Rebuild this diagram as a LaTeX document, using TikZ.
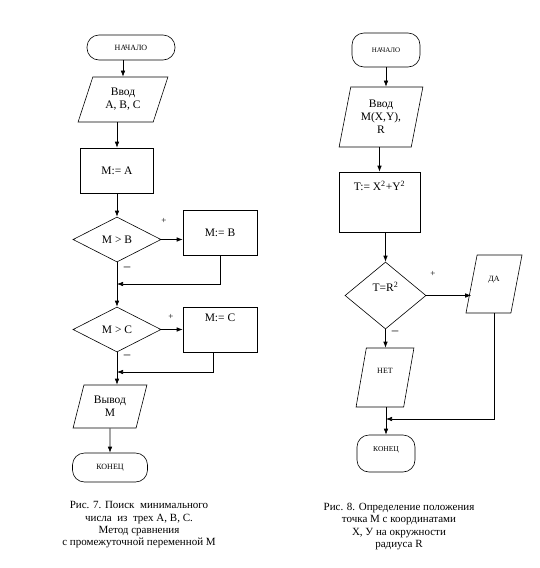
\documentclass[tikz,border=0pt]{standalone}
\usepackage{fontspec}
\setmainfont{Liberation Serif}
\usetikzlibrary{shapes.geometric,arrows.meta,positioning}

\tikzset{
  term/.style={draw,rectangle,rounded corners=12pt,inner sep=0pt,font=\fontsize{8}{9}\selectfont},
  io/.style={draw,trapezium,trapezium stretches=true,inner sep=0pt,align=center,font=\fontsize{11.5}{13}\selectfont},
  proc/.style={draw,rectangle,inner sep=0pt,font=\fontsize{11.5}{13}\selectfont},
  cond/.style={draw,diamond,inner sep=0pt,font=\fontsize{11.5}{13}\selectfont},
  sign/.style={inner sep=0pt,font=\fontsize{9}{9}\selectfont},
  minus/.style={inner sep=0pt,font=\fontsize{13}{13}\selectfont},
  caption/.style={align=center,inner sep=0pt,font=\fontsize{11}{12.3}\selectfont}
}

\begin{document}
\begin{tikzpicture}[x=1pt,y=-1pt,line width=0.6pt,>={Latex[length=6pt,width=4.5pt]}]
\useasboundingbox (0,0) rectangle (539,568);
% left chart
\node[term,minimum width=88pt,minimum height=25pt]	(beg_l)	at (131,47.5)	{НАЧАЛО};
\node[io,trapezium left angle=69,trapezium right angle=111,minimum width=90pt,minimum height=45pt]	(in_l)	at (123,99.5)	{Ввод\\A, B, C};
\node[proc,minimum width=73pt,minimum height=45pt]	(m_a)	at (117,170.5)	{M:= A};
\node[cond,minimum width=88pt,minimum height=45pt]	(c_b)	at (117,239.5)	{M > B};
\node[proc,minimum width=74pt,minimum height=45pt]	(m_b)	at (220,232.5)	{M:= B};
\node[cond,minimum width=88pt,minimum height=45pt]	(c_c)	at (117,329.5)	{M > C};
\node[proc,minimum width=74pt,minimum height=45pt,text height=7pt,text depth=23pt]	(m_c)	at (220,329.5)	{M:= C};
\node[io,trapezium left angle=72,trapezium right angle=108,minimum width=74pt,minimum height=43pt]	(out_l)	at (110,406.5)	{Вывод\\M};
\node[term,minimum width=75pt,minimum height=29pt]	(end_l)	at (110,467.5)	{КОНЕЦ};
\node[sign]	(p_b)	at (164,221)	{+};
\node[minus]	(n_b)	at (127,269)	{–};
\node[sign]	(p_c)	at (171,317)	{+};
\node[minus]	(n_c)	at (127,357)	{–};
\coordinate	(j_b)	at (117,284);
\coordinate	(j_c)	at (117,372);
\node[caption]	(cap_l)	at (139,525)	{Рис. 7. Поиск\ \ минимального\\числа\ \ из\ \ трех А, В, С.\\Метод сравнения\\с промежуточной переменной М};
% right chart
\node[term,minimum width=68pt,minimum height=34pt,font=\fontsize{7}{8}\selectfont]	(beg_r)	at (386,50)	{НАЧАЛО};
\node[io,trapezium left angle=77,trapezium right angle=103,minimum width=84pt,minimum height=60pt]	(in_r)	at (381,117)	{Ввод\\M(X,Y),\\R};
\node[proc,minimum width=81pt,minimum height=60pt,text height=8pt,text depth=31pt]	(t_r)	at (379.5,202)	{T:= X\textsuperscript{2}+Y\textsuperscript{2}};
\node[cond,minimum width=81pt,minimum height=67pt,text height=7pt,text depth=15pt]	(c_r)	at (385.5,295.5)	{T=R\textsuperscript{2}};
\node[io,trapezium left angle=79,trapezium right angle=101,minimum width=56pt,minimum height=58pt,font=\fontsize{8}{9}\selectfont,text height=7pt,text depth=12pt]	(yes_r)	at (494,284)	{ДА};
\node[io,trapezium left angle=79,trapezium right angle=101,minimum width=58pt,minimum height=59pt,font=\fontsize{8}{9}\selectfont,text height=7pt,text depth=15pt]	(no_r)	at (385,377.5)	{НЕТ};
\node[term,minimum width=58pt,minimum height=37pt,font=\fontsize{7.5}{8}\selectfont,text height=6pt,text depth=10pt]	(end_r)	at (386,453.5)	{КОНЕЦ};
\node[sign]	(p_r)	at (433,274)	{+};
\node[minus]	(n_r)	at (395,333)	{–};
\coordinate	(j_r)	at (386,419);
\node[caption]	(cap_r)	at (399,526.5)	{Рис. 8. Определение положения\\точка М с координатами\\Х, У на окружности\\радиуса R};

\draw[->] (beg_l.south -| in_l.north) -- (in_l.north);
\draw[->] (in_l.south -| m_a.north) -- (m_a.north);
\draw[->] (m_a.south) -- (c_b.north);
\draw[->] (c_b.east) -- (c_b.east -| m_b.west);
\draw[->] (m_b.south) |- (j_b);
\draw[->] (c_b.south) -- (c_c.north);
\draw[->] (c_c.east) -- (c_c.east -| m_c.west);
\draw[->] ([xshift=-7pt]m_c.south) |- (j_c);
\draw[->] (c_c.south) -- (c_c.south |- out_l.north);
\draw[->] (out_l.south) -- (end_l.north);

\draw[->] (beg_r.south) -- (beg_r.south |- in_r.north);
\draw[->] (in_r.south -| t_r.north) -- (t_r.north);
\draw[->] (t_r.south -| c_r.north) -- (c_r.north);
\draw[->] (c_r.east) -- (c_r.east -| yes_r.west);
\draw[->] (c_r.south) -- (c_r.south |- no_r.north);
\draw[->] (yes_r.south) |- (j_r);
\draw[->] (no_r.south -| end_r.north) -- (end_r.north);
\end{tikzpicture}
\end{document}
